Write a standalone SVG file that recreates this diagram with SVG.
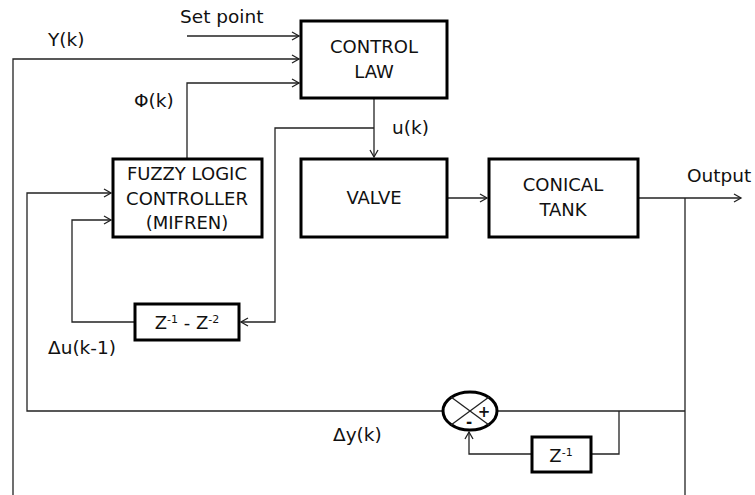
<svg xmlns="http://www.w3.org/2000/svg" width="755" height="495" viewBox="0 0 755 495">
<style>
.box{fill:#fff;stroke:#000;stroke-width:3}
.ln{fill:none;stroke:#222;stroke-width:1.3}
.t{font-family:"DejaVu Sans","Liberation Sans",Arial,sans-serif;font-size:18px;fill:#111}
.l{font-size:18.5px}
.c{text-anchor:middle}
.sup{font-size:11px}
</style>
<defs>
<marker id="a" markerWidth="10" markerHeight="10" refX="8" refY="5" orient="auto" markerUnits="userSpaceOnUse">
<polyline points="1,1 8,5 1,9" fill="none" stroke="#222" stroke-width="1.3"/>
</marker>
</defs>
<g id="connectors">
<line class="ln" x1="187" y1="36" x2="299" y2="36" marker-end="url(#a)"/>
<polyline class="ln" points="13,495 13,59 299,59" marker-end="url(#a)"/>
<polyline class="ln" points="187,158 187,83 299,83" marker-end="url(#a)"/>
<line class="ln" x1="374" y1="98" x2="374" y2="157" marker-end="url(#a)"/>
<polyline class="ln" points="374,128 275,128 275,322 241,322" marker-end="url(#a)"/>
<line class="ln" x1="447" y1="198" x2="487" y2="198" marker-end="url(#a)"/>
<line class="ln" x1="638" y1="198" x2="741" y2="198" marker-end="url(#a)"/>
<line class="ln" x1="685" y1="198" x2="685" y2="495"/>
<polyline class="ln" points="135,322 72,322 72,220 111,220" marker-end="url(#a)"/>
<polyline class="ln" points="442,411 27,411 27,193 111,193" marker-end="url(#a)"/>
<line class="ln" x1="497" y1="411" x2="685" y2="411"/>
<polyline class="ln" points="619,411 619,454 591,454"/>
<polyline class="ln" points="532,454 469,454 469,432" marker-end="url(#a)"/>
</g>
<g id="control_law">
<rect class="box" x="301" y="21" width="146" height="77"/>
<text class="t c" x="374" y="53">CONTROL</text>
<text class="t c" x="374" y="78">LAW</text>
</g>
<g id="valve">
<rect class="box" x="301" y="159" width="146" height="78"/>
<text class="t c" x="374" y="204">VALVE</text>
</g>
<g id="conical_tank">
<rect class="box" x="489" y="159" width="149" height="78"/>
<text class="t c" x="563" y="191">CONICAL</text>
<text class="t c" x="563" y="216">TANK</text>
</g>
<g id="flc">
<rect class="box" x="113" y="159" width="149" height="78"/>
<text class="t c" x="187" y="180">FUZZY LOGIC</text>
<text class="t c" x="187" y="205">CONTROLLER</text>
<text class="t c" x="187" y="229">(MIFREN)</text>
</g>
<g id="delay2">
<rect class="box" x="135" y="304" width="104" height="36"/>
<text class="t c" x="187" y="329">Z<tspan class="sup" dy="-6">-1</tspan><tspan dy="6"> - Z</tspan><tspan class="sup" dy="-6">-2</tspan></text>
</g>
<g id="sum">
<ellipse cx="470" cy="411" rx="27" ry="19" fill="#fff" stroke="#000" stroke-width="3"/>
<line x1="451" y1="397" x2="489" y2="425" stroke="#222" stroke-width="1.3"/>
<line x1="451" y1="425" x2="489" y2="397" stroke="#222" stroke-width="1.3"/>
<text class="t c" x="484" y="417" style="font-size:15px;font-weight:bold">+</text>
<text class="t c" x="469" y="427" style="font-size:15px;font-weight:bold">-</text>
</g>
<g id="delay1">
<rect class="box" x="532" y="437" width="59" height="35"/>
<text class="t c" x="561" y="462">Z<tspan class="sup" dy="-6">-1</tspan></text>
</g>
<g id="labels">
<text class="t l" x="180" y="23">Set point</text>
<text class="t l" x="48" y="46">Y(k)</text>
<text class="t l" x="134" y="107">Φ(k)</text>
<text class="t l" x="392" y="134">u(k)</text>
<text class="t l" x="687" y="182">Output</text>
<text class="t l" x="48" y="354">Δu(k-1)</text>
<text class="t l" x="333" y="441">Δy(k)</text>
</g>
</svg>
